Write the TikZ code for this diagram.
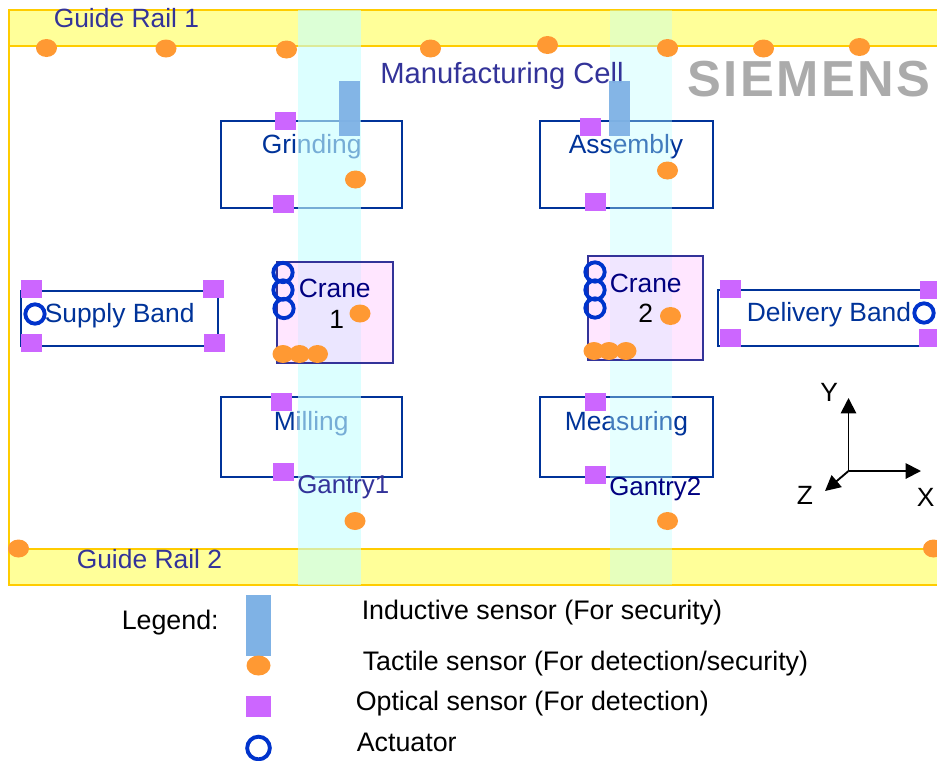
\documentclass[tikz,border=0pt]{standalone}
\usepackage{fontspec}
\setmainfont{Liberation Sans}
\newfontfamily\logofont[LetterSpace=5]{Liberation Sans Bold}
\usetikzlibrary{shapes.geometric,arrows.meta}
\definecolor{railline}{HTML}{FFCC00}
\definecolor{railfill}{HTML}{FFFF99}
\definecolor{stationblue}{HTML}{003399}
\definecolor{labelblue}{HTML}{333399}
\definecolor{navy}{HTML}{000080}
\definecolor{cranefill}{RGB}{255,197,255}
\definecolor{inductivecol}{HTML}{7FB2E5}
\definecolor{tactilecol}{HTML}{FF9933}
\definecolor{opticalcol}{HTML}{CC66FF}
\definecolor{actuatorcol}{HTML}{0033CC}
\definecolor{gantryA}{RGB}{197,255,255}
\definecolor{gantryB}{RGB}{186,255,255}
\definecolor{logogray}{HTML}{ABABAB}
\tikzset{
  txt/.style={anchor=base west,inner sep=0pt,font=\fontsize{19.8}{24}\selectfont},
  legendtxt/.style={txt,font=\fontsize{20.1}{24}\selectfont},
  bigtxt/.style={txt,font=\fontsize{21.9}{26}\selectfont},
  railbox/.style={draw=railline,fill=railfill,line width=1.5pt},
  stationbox/.style={draw=stationblue,line width=1.4pt},
  cranebox/.style={draw=labelblue,line width=1.4pt},
  inductive/.style={fill=inductivecol,opacity=.95},
  tactile/.style={ellipse,fill=tactilecol,inner sep=0pt,minimum width=15.75pt,minimum height=13.5pt},
  optical/.style={rectangle,fill=opticalcol,inner sep=0pt,minimum width=15.75pt,minimum height=13.5pt},
  actuator/.style={circle,draw=actuatorcol,line width=2.9pt,inner sep=0pt,outer sep=0pt,minimum size=14.5pt},
  axisarrow/.style={draw=black,line width=1.4pt,-{Triangle[length=11.5pt,width=11.5pt]}}
}
\begin{document}
\begin{tikzpicture}[x=0.75pt,y=-0.75pt]
\useasboundingbox (0,0) rectangle (937,760);
\clip (0,0) rectangle (937,760);
% frame and rails
\draw[railline,line width=1.5pt] (9,10) -- (9,585);
\draw[railbox] (9,10) rectangle (960,46);
\draw[railbox] (9,549) rectangle (960,585);
% stations
\draw[stationbox] (221,121) rectangle (402,208);
\draw[stationbox] (540,121) rectangle (713,208);
\draw[stationbox] (221,397) rectangle (402,477);
\draw[stationbox] (540,397) rectangle (713,477);
\draw[stationbox] (21,291) rectangle (218,346);
\draw[stationbox] (718,290) rectangle (960,346);
% labels beneath the gantries
\node[txt,text=stationblue] (grinding) at (261.5,153) {Grinding};
\node[txt,text=stationblue] (assembly) at (568.5,153) {Assembly};
\node[txt,text=stationblue] (milling) at (273.5,430) {Milling};
\node[txt,text=stationblue] (measuring) at (564.5,430) {Measuring};
% gantries
\fill[gantryA,opacity=.6] (298,10) rectangle (361,585);
\fill[gantryB,opacity=.36] (610,10) rectangle (671.5,585);
% cranes over the gantries
\fill[cranefill,opacity=.43] (277,262) rectangle (393,363);
\fill[cranefill,opacity=.43] (588,256) rectangle (703,360);
\draw[cranebox] (277,262) rectangle (393,363);
\draw[cranebox] (588,256) rectangle (703,360);
% labels
\node[txt,text=labelblue] (rail1) at (53.5,27) {Guide Rail 1};
\node[txt,text=labelblue] (rail2) at (76.5,568) {Guide Rail 2};
\node[bigtxt,text=labelblue] (cell) at (380,83) {Manufacturing Cell};
\node[txt,text=labelblue,font=\fontsize{19.4}{24}\selectfont] (gantry1) at (297,493) {Gantry1};
\node[txt,text=navy,font=\fontsize{19.4}{24}\selectfont] (gantry2) at (609,495) {Gantry2};
\node[txt,text=navy] (crane1) at (298.5,297) {Crane};
\node[txt] (crane1n) at (329,328) {1};
\node[txt,text=navy] (crane2) at (609.5,292) {Crane};
\node[txt] (crane2n) at (638,322) {2};
\node[txt,text=stationblue] (supply) at (44.5,322) {Supply Band};
\node[txt,text=stationblue] (delivery) at (746.5,321) {Delivery Band};
\node[anchor=base west,inner sep=0pt,text=logogray,font=\logofont\fontsize{38}{40}\selectfont] (logo) at (687,96) {SIEMENS};
% inductive sensors
\fill[inductive] (339,81) rectangle (360,136);
\fill[inductive] (609,81) rectangle (630,136);
% tactile sensors
\node[tactile] (ta1) at (46.5,48) {};
\node[tactile] (ta2) at (166,48.5) {};
\node[tactile] (ta3) at (286.5,49.5) {};
\node[tactile] (ta4) at (430.5,48.5) {};
\node[tactile] (ta5) at (547.5,45) {};
\node[tactile] (ta6) at (667.5,48) {};
\node[tactile] (ta7) at (763.5,48.5) {};
\node[tactile] (ta8) at (859.5,47) {};
\node[tactile] (tb1) at (355.5,179.5) {};
\node[tactile] (tb2) at (667.5,170.5) {};
\node[tactile] (tc1) at (360,313.5) {};
\node[tactile] (tc2) at (670.5,316) {};
\node[tactile] (td1) at (283,354) {};
\node[tactile] (td2) at (299.5,354) {};
\node[tactile] (td3) at (317.5,354) {};
\node[tactile] (td4) at (594,351) {};
\node[tactile] (td5) at (609,351) {};
\node[tactile] (td6) at (626,351) {};
\node[tactile] (te1) at (355,521) {};
\node[tactile] (te2) at (667.5,521) {};
\node[tactile] (tf1) at (18.5,548.5) {};
\node[tactile] (tf2) at (933.5,548.5) {};
% optical sensors
\node[optical] (o1) at (285.5,121) {};
\node[optical] (o2) at (283.5,204) {};
\node[optical] (o3) at (590.5,126.5) {};
\node[optical] (o4) at (595.5,202) {};
\node[optical] (o5) at (31.5,288.5) {};
\node[optical] (o6) at (213.5,288.5) {};
\node[optical] (o7) at (31.5,343) {};
\node[optical] (o8) at (214.5,343) {};
\node[optical] (o9) at (281.5,402) {};
\node[optical] (o10) at (283.5,471.5) {};
\node[optical] (o11) at (595.5,402) {};
\node[optical] (o12) at (595.5,475) {};
\node[optical] (o13) at (730.5,288.5) {};
\node[optical] (o14) at (930.5,290) {};
\node[optical] (o15) at (730.5,337.5) {};
\node[optical] (o16) at (929.5,337.5) {};
% actuators
\node[actuator] (a1) at (283,272.5) {};
\node[actuator] (a2) at (283,290) {};
\node[actuator] (a3) at (284,308.5) {};
\node[actuator] (a4) at (595,272) {};
\node[actuator] (a5) at (595,290) {};
\node[actuator] (a6) at (595,308) {};
\node[actuator] (a7) at (35,314) {};
\node[actuator] (a8) at (924,313) {};
% axes
\coordinate (origin) at (848.5,471);
\coordinate (ytip) at (848.5,398);
\coordinate (xtip) at (921,471);
\coordinate (ztip) at (825,491);
\draw[axisarrow] (origin) -- (ytip);
\draw[axisarrow] (origin) -- (xtip);
\draw[axisarrow] (origin) -- (ztip);
\node[txt] (ylab) at (820,401) {Y};
\node[txt] (zlab) at (796.5,504) {Z};
\node[txt] (xlab) at (916.5,506) {X};
% legend
\node[legendtxt] (legend) at (121.5,629) {Legend:};
\fill[inductivecol] (246,595) rectangle (271,656);
\node[tactile,minimum width=18pt,minimum height=15pt] (ltac) at (258.5,665.5) {};
\node[optical,minimum width=18.75pt,minimum height=15.75pt] (lopt) at (258.5,706.5) {};
\node[actuator,minimum size=17pt] (lact) at (258.5,748) {};
\node[legendtxt] (lt1) at (361.5,619) {Inductive sensor (For security)};
\node[legendtxt] (lt2) at (362.5,670) {Tactile sensor (For detection/security)};
\node[legendtxt] (lt3) at (355.5,710) {Optical sensor (For detection)};
\node[legendtxt] (lt4) at (356.5,751) {Actuator};
\end{tikzpicture}
\end{document}
